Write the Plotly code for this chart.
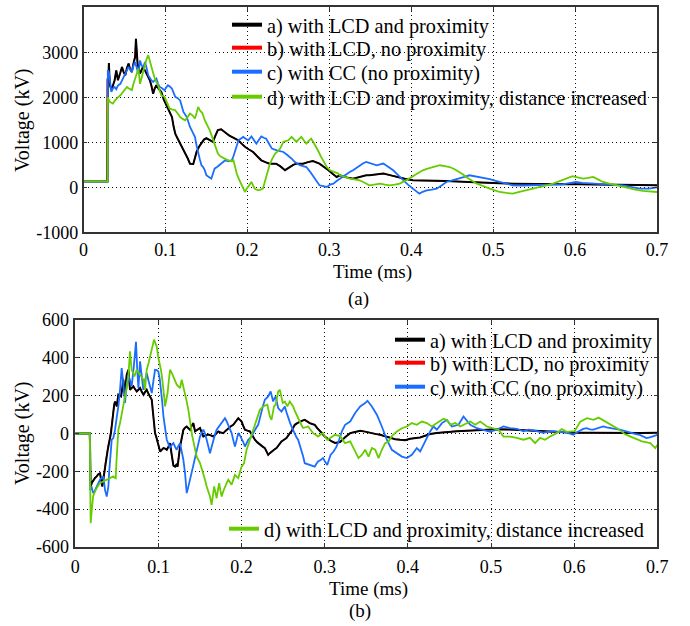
import plotly.graph_objects as go

# ---------------- data ----------------
NAMES = ["a) with LCD and proximity", "b) with LCD, no proximity",
         "c) with CC (no proximity)", "d) with LCD and proximity, distance increased"]
COLORS = ["#000000", "#ff0000", "#1a6dff", "#66cc00"]

X_TICKS = [0, 0.1, 0.2, 0.3, 0.4, 0.5, 0.6, 0.7]
X_TICK_TEXT = ["0", "0.1", "0.2", "0.3", "0.4", "0.5", "0.6", "0.7"]
TOP_Y_TICKS = [-1000, 0, 1000, 2000, 3000, 4000]
TOP_Y_TEXT = ["-1000", "0", "1000", "2000", "3000", "4000"]
BOT_Y_TICKS = [-600, -400, -200, 0, 200, 400, 600]
BOT_Y_TEXT = ["-600", "-400", "-200", "0", "200", "400", "600"]

# (a) panel, (time ms, voltage kV)
TOP_A = [(0, 130), (0.0293, 130), (0.0297, 2400), (0.0305, 2500), (0.031, 2760), (0.032, 2300), (0.034, 2155),
         (0.036, 2300), (0.038, 2380), (0.040, 2600), (0.042, 2380), (0.045, 2550), (0.047, 2675), (0.049, 2560),
         (0.051, 2490), (0.053, 2650), (0.055, 2750), (0.057, 2620), (0.059, 2560), (0.061, 2750), (0.063, 2900),
         (0.064, 3300), (0.065, 2950), (0.066, 2750), (0.069, 2525), (0.072, 2650), (0.075, 2600), (0.078, 2480),
         (0.081, 2380), (0.083, 2250), (0.085, 2080), (0.087, 2200), (0.089, 2270), (0.092, 2180), (0.095, 2120),
         (0.098, 1950), (0.101, 1820), (0.104, 1700), (0.108, 1560), (0.110, 1350), (0.112, 1190), (0.115, 1080),
         (0.118, 970), (0.121, 880), (0.124, 785), (0.127, 650), (0.130, 525), (0.134, 520), (0.136, 650),
         (0.138, 785), (0.141, 900), (0.144, 970), (0.147, 1060), (0.150, 1090), (0.154, 1050), (0.158, 1010),
         (0.161, 1150), (0.164, 1270), (0.168, 1290), (0.171, 1240), (0.175, 1190), (0.178, 1150), (0.181, 1120),
         (0.185, 1080), (0.189, 1045), (0.193, 970), (0.197, 900), (0.202, 840), (0.207, 785), (0.212, 690),
         (0.217, 600), (0.222, 560), (0.227, 525), (0.235, 525), (0.240, 470), (0.246, 380), (0.252, 450),
         (0.256, 500), (0.260, 525), (0.268, 525), (0.274, 560), (0.280, 585), (0.288, 525), (0.294, 450),
         (0.299, 380), (0.304, 300), (0.309, 230), (0.313, 267), (0.321, 220), (0.329, 193), (0.337, 230),
         (0.345, 267), (0.349, 267), (0.357, 290), (0.366, 304), (0.374, 270), (0.382, 230), (0.392, 190),
         (0.402, 156), (0.412, 156), (0.423, 156), (0.433, 148), (0.443, 140), (0.455, 130), (0.467, 118),
         (0.480, 110), (0.492, 96), (0.508, 88), (0.524, 81), (0.545, 72), (0.565, 67), (0.585, 67), (0.605, 67),
         (0.625, 63), (0.646, 59), (0.670, 52), (0.695, 44), (0.700, 44)]

TOP_B = [(0, 130), (0.0285, 130), (0.0289, 2400), (0.0305, 2500), (0.031, 2760), (0.032, 2300), (0.034, 2155),
         (0.036, 2300), (0.038, 2380), (0.040, 2600), (0.042, 2380), (0.045, 2550), (0.047, 2675), (0.049, 2560),
         (0.051, 2490), (0.053, 2650), (0.055, 2750), (0.057, 2620), (0.059, 2560), (0.061, 2750), (0.063, 2900),
         (0.064, 3300), (0.065, 2950), (0.066, 2750), (0.069, 2525), (0.072, 2650), (0.075, 2600), (0.078, 2480),
         (0.081, 2380), (0.083, 2250), (0.085, 2080), (0.087, 2200), (0.089, 2270), (0.092, 2180), (0.095, 2120),
         (0.098, 1950), (0.101, 1820), (0.104, 1700), (0.108, 1560), (0.110, 1350), (0.112, 1190), (0.115, 1080),
         (0.118, 970), (0.121, 880), (0.124, 785), (0.127, 650), (0.130, 525), (0.134, 520), (0.136, 650),
         (0.138, 785), (0.141, 900), (0.144, 970), (0.147, 1060), (0.150, 1090), (0.154, 1050), (0.158, 1010),
         (0.161, 1150), (0.164, 1270), (0.168, 1290), (0.171, 1240), (0.175, 1190), (0.178, 1150), (0.181, 1120),
         (0.185, 1080), (0.189, 1045), (0.193, 970), (0.197, 900), (0.202, 840), (0.207, 785), (0.212, 690),
         (0.217, 600), (0.222, 560), (0.227, 525), (0.235, 525), (0.240, 470), (0.246, 380), (0.252, 450),
         (0.256, 500), (0.260, 525), (0.268, 525), (0.274, 560), (0.280, 585), (0.288, 525), (0.294, 450),
         (0.299, 380), (0.304, 300), (0.309, 230), (0.313, 267), (0.321, 220), (0.329, 193), (0.337, 230),
         (0.345, 267), (0.349, 267), (0.357, 290), (0.366, 304), (0.374, 270), (0.382, 230), (0.392, 190),
         (0.402, 156), (0.412, 156), (0.423, 156), (0.433, 148), (0.443, 140), (0.455, 130), (0.467, 118),
         (0.480, 110), (0.492, 96), (0.508, 88), (0.524, 81), (0.545, 72), (0.565, 67), (0.585, 67), (0.605, 67),
         (0.625, 63), (0.646, 59), (0.670, 52), (0.695, 44), (0.700, 44)]

TOP_C = [(0, 130), (0.0294, 130), (0.0297, 2600), (0.031, 2560), (0.032, 2415), (0.034, 2120), (0.036, 2200),
         (0.038, 2230), (0.040, 2180), (0.042, 2260), (0.045, 2300), (0.047, 2380), (0.049, 2450), (0.051, 2525),
         (0.053, 2600), (0.055, 2675), (0.057, 2620), (0.059, 2560), (0.061, 2700), (0.063, 2785), (0.065, 2650),
         (0.067, 2525), (0.069, 2820), (0.071, 2700), (0.073, 2675), (0.075, 2785), (0.077, 2650), (0.079, 2490),
         (0.082, 2400), (0.085, 2340), (0.087, 2380), (0.089, 2415), (0.091, 2300), (0.093, 2230), (0.096, 2200),
         (0.099, 2155), (0.101, 2220), (0.103, 2270), (0.106, 2230), (0.108, 2190), (0.110, 2100), (0.112, 2010),
         (0.115, 1980), (0.118, 1930), (0.120, 1800), (0.122, 1675), (0.124, 1620), (0.126, 1560), (0.128, 1450),
         (0.130, 1340), (0.133, 1230), (0.136, 1120), (0.138, 930), (0.140, 750), (0.142, 620), (0.144, 490),
         (0.146, 450), (0.148, 380), (0.150, 267), (0.153, 230), (0.156, 193), (0.158, 300), (0.160, 415),
         (0.163, 450), (0.166, 490), (0.170, 540), (0.173, 600), (0.177, 580), (0.181, 600), (0.183, 690),
         (0.185, 785), (0.187, 920), (0.189, 1045), (0.192, 1080), (0.195, 1120), (0.198, 1080), (0.201, 1045),
         (0.205, 1130), (0.208, 1050), (0.211, 970), (0.214, 1050), (0.217, 1130), (0.220, 1100), (0.223, 1080),
         (0.227, 950), (0.230, 860), (0.236, 820), (0.240, 800), (0.244, 785), (0.248, 730), (0.252, 675),
         (0.255, 620), (0.258, 560), (0.261, 520), (0.264, 490), (0.268, 470), (0.272, 450), (0.276, 360),
         (0.280, 267), (0.284, 150), (0.288, 44), (0.292, 20), (0.297, 7), (0.301, 60), (0.305, 81), (0.309, 140),
         (0.313, 193), (0.317, 250), (0.321, 304), (0.325, 340), (0.329, 378), (0.333, 430), (0.337, 480),
         (0.341, 530), (0.345, 562), (0.350, 530), (0.354, 500), (0.358, 490), (0.362, 510), (0.366, 527),
         (0.370, 480), (0.374, 430), (0.378, 378), (0.384, 270), (0.390, 156), (0.396, 60), (0.402, -30),
         (0.406, -90), (0.410, -140), (0.414, -100), (0.419, -67), (0.425, -50), (0.431, -30), (0.437, 40),
         (0.443, 118), (0.451, 160), (0.459, 193), (0.465, 230), (0.471, 267), (0.477, 250), (0.484, 230),
         (0.490, 200), (0.496, 180), (0.502, 150), (0.508, 118), (0.516, 80), (0.524, 44), (0.535, 40),
         (0.545, 44), (0.555, 55), (0.565, 67), (0.575, 60), (0.585, 67), (0.593, 95), (0.601, 118), (0.609, 100),
         (0.618, 81), (0.628, 75), (0.638, 67), (0.648, 55), (0.658, 44), (0.668, 10), (0.679, -30), (0.690, -30),
         (0.700, -3)]

TOP_D = [(0, 130), (0.0294, 130), (0.0297, 2000), (0.031, 1960), (0.032, 1900), (0.034, 1880), (0.036, 1860),
         (0.038, 1920), (0.040, 1970), (0.042, 2000), (0.045, 2045), (0.047, 2090), (0.049, 2120), (0.051, 2180),
         (0.053, 2230), (0.055, 2200), (0.057, 2180), (0.059, 2160), (0.061, 2300), (0.063, 2415), (0.065, 2550),
         (0.067, 2640), (0.069, 2300), (0.071, 2450), (0.073, 2600), (0.075, 2700), (0.077, 2850), (0.079, 2935),
         (0.081, 2800), (0.083, 2675), (0.085, 2550), (0.087, 2415), (0.089, 2340), (0.091, 2270), (0.093, 2150),
         (0.095, 2045), (0.097, 2030), (0.099, 2010), (0.102, 1880), (0.105, 1750), (0.108, 1730), (0.112, 1710),
         (0.115, 1640), (0.118, 1560), (0.121, 1520), (0.124, 1490), (0.127, 1560), (0.130, 1640), (0.133, 1600),
         (0.136, 1530), (0.138, 1650), (0.140, 1785), (0.142, 1710), (0.145, 1650), (0.148, 1490), (0.151, 1380),
         (0.154, 1270), (0.157, 1120), (0.160, 970), (0.162, 860), (0.164, 750), (0.167, 690), (0.171, 640),
         (0.174, 620), (0.177, 600), (0.180, 580), (0.183, 600), (0.185, 450), (0.187, 305), (0.190, 170),
         (0.193, 44), (0.195, -30), (0.197, -104), (0.199, -40), (0.201, 7), (0.203, 60), (0.205, 118),
         (0.207, 40), (0.209, -30), (0.211, -50), (0.213, -67), (0.216, -50), (0.219, -30), (0.221, 100),
         (0.223, 230), (0.225, 360), (0.227, 490), (0.230, 620), (0.234, 750), (0.237, 800), (0.240, 860),
         (0.244, 1010), (0.247, 1030), (0.250, 1045), (0.254, 1120), (0.257, 1060), (0.260, 1010), (0.263, 1070),
         (0.266, 1120), (0.269, 1040), (0.272, 970), (0.275, 1030), (0.278, 1080), (0.281, 990), (0.284, 900),
         (0.287, 790), (0.290, 675), (0.294, 560), (0.297, 450), (0.301, 378), (0.306, 340), (0.311, 305),
         (0.313, 267), (0.319, 230), (0.325, 193), (0.331, 175), (0.337, 156), (0.343, 100), (0.349, 44),
         (0.355, 60), (0.362, 81), (0.368, 60), (0.374, 44), (0.380, 60), (0.386, 81), (0.390, 120), (0.394, 156),
         (0.399, 210), (0.404, 267), (0.409, 320), (0.414, 378), (0.420, 415), (0.427, 450), (0.435, 490),
         (0.441, 470), (0.447, 450), (0.453, 400), (0.459, 341), (0.463, 290), (0.467, 230), (0.474, 150),
         (0.480, 81), (0.486, 40), (0.492, 7), (0.496, -30), (0.502, -67), (0.508, -104), (0.516, -125),
         (0.524, -140), (0.532, -100), (0.540, -67), (0.548, -35), (0.557, -3), (0.565, 40), (0.573, 81),
         (0.581, 140), (0.589, 193), (0.597, 245), (0.603, 220), (0.610, 193), (0.616, 210), (0.622, 230),
         (0.628, 175), (0.634, 118), (0.642, 80), (0.650, 44), (0.658, 5), (0.667, -30), (0.675, -55),
         (0.683, -81), (0.691, -95), (0.700, -104)]

# (b) panel
BOT_A = [(0, 0), (0.0175, 0), (0.0180, -150), (0.0185, -280), (0.0200, -260), (0.0217, -245), (0.0237, -235),
         (0.0257, -227), (0.0277, -215), (0.0297, -210), (0.0312, -240), (0.0325, -280), (0.0338, -240),
         (0.035, -210), (0.0366, -157), (0.039, -86), (0.0405, -55), (0.0418, -33), (0.0428, 0), (0.0438, 37),
         (0.0447, 80), (0.0457, 125), (0.0467, 150), (0.0478, 169), (0.049, 155), (0.050, 143), (0.051, 180),
         (0.0518, 205), (0.0535, 200), (0.055, 196), (0.0565, 240), (0.0578, 284), (0.0588, 240), (0.0598, 196),
         (0.0608, 260), (0.0618, 310), (0.0638, 337), (0.0648, 280), (0.0658, 231), (0.0678, 240), (0.0698, 249),
         (0.0718, 235), (0.0739, 222), (0.0759, 231), (0.0779, 240), (0.080, 220), (0.082, 205), (0.084, 220),
         (0.0859, 231), (0.088, 210), (0.0899, 196), (0.092, 178), (0.093, 130), (0.0939, 90), (0.095, 40),
         (0.0959, 2), (0.0975, -20), (0.0992, -42), (0.1005, -70), (0.102, -95), (0.104, -85), (0.106, -77),
         (0.108, -80), (0.110, -86), (0.112, -70), (0.114, -51), (0.1155, -100), (0.1168, -157), (0.118, -170),
         (0.120, -175), (0.1215, -165), (0.123, -175), (0.1245, -120), (0.126, -69), (0.128, -25), (0.130, 20),
         (0.132, 30), (0.134, 37), (0.136, 28), (0.138, 20), (0.140, 40), (0.142, 55), (0.144, 11), (0.147, 20),
         (0.150, 29), (0.152, 5), (0.154, -16), (0.157, -10), (0.160, -5), (0.163, -10), (0.166, -16),
         (0.169, -3), (0.172, 11), (0.175, 5), (0.178, 2), (0.181, 15), (0.184, 29), (0.187, 38), (0.190, 46),
         (0.193, 63), (0.196, 81), (0.198, 72), (0.200, 63), (0.202, 40), (0.204, 20), (0.207, 15), (0.210, 11),
         (0.213, -10), (0.216, -33), (0.219, -47), (0.222, -60), (0.225, -68), (0.228, -77), (0.230, -95),
         (0.232, -113), (0.234, -104), (0.236, -95), (0.239, -86), (0.242, -77), (0.245, -60), (0.248, -42),
         (0.251, -33), (0.254, -24), (0.257, -5), (0.260, 11), (0.262, 30), (0.264, 46), (0.267, 55), (0.270, 63),
         (0.273, 68), (0.276, 72), (0.279, 63), (0.282, 55), (0.285, 50), (0.288, 46), (0.291, 28), (0.294, 11),
         (0.297, 0), (0.300, -16), (0.304, -30), (0.3085, -42), (0.3125, -50), (0.3185, -45), (0.3245, -20),
         (0.3306, 2), (0.3366, 8), (0.3426, 14), (0.3486, 10), (0.3546, 2), (0.3606, -2), (0.3666, -7),
         (0.3727, -15), (0.3787, -24), (0.3847, -30), (0.3907, -33), (0.3967, -35), (0.4027, -28), (0.4087, -25),
         (0.4147, -21), (0.4207, -12), (0.4268, -3), (0.4348, 3), (0.4428, 7), (0.451, 10), (0.459, 12),
         (0.471, 14), (0.483, 16), (0.495, 20), (0.507, 23), (0.523, 21), (0.535, 18), (0.547, 16), (0.559, 14),
         (0.571, 12), (0.585, 8), (0.600, 4), (0.620, 4), (0.640, 3), (0.659, 2), (0.680, 3), (0.700, 4)]

BOT_B = [(0, 0), (0.0170, 0), (0.0176, -150), (0.0183, -280), (0.0200, -260), (0.0217, -245), (0.0237, -235),
         (0.0257, -227), (0.0277, -215), (0.0297, -210), (0.0312, -240), (0.0325, -280), (0.0338, -240),
         (0.035, -210), (0.0362, -157), (0.0385, -86), (0.0400, -55), (0.0412, -33), (0.0425, 0), (0.0435, 37),
         (0.0447, 80), (0.0457, 125), (0.0467, 150), (0.0478, 169), (0.049, 155), (0.050, 143), (0.051, 180),
         (0.0518, 205), (0.0535, 200), (0.055, 196), (0.0565, 240), (0.0578, 290), (0.0588, 240), (0.0598, 196),
         (0.0608, 260), (0.0618, 310), (0.0638, 337), (0.0648, 280), (0.0658, 231), (0.0678, 240), (0.0698, 249),
         (0.0718, 235), (0.0739, 222), (0.0759, 231), (0.0779, 240), (0.080, 220), (0.082, 205), (0.084, 220),
         (0.0859, 231), (0.088, 210), (0.0899, 196), (0.092, 178), (0.093, 130), (0.0939, 90), (0.095, 40),
         (0.0959, 2), (0.0975, -20), (0.0992, -42), (0.1005, -70), (0.102, -95), (0.104, -85), (0.106, -77),
         (0.108, -80), (0.110, -86), (0.112, -70), (0.114, -51), (0.1155, -100), (0.1168, -157), (0.118, -170),
         (0.120, -175), (0.1215, -165), (0.123, -175), (0.1245, -120), (0.126, -69), (0.128, -25), (0.130, 20),
         (0.132, 30), (0.134, 37), (0.136, 28), (0.138, 20), (0.140, 40), (0.142, 55), (0.144, 11), (0.147, 20),
         (0.150, 29), (0.152, 5), (0.154, -16), (0.157, -10), (0.160, -5), (0.163, -10), (0.166, -16),
         (0.169, -3), (0.172, 11), (0.175, 5), (0.178, 2), (0.181, 15), (0.184, 29), (0.187, 38), (0.190, 46),
         (0.193, 63), (0.196, 81), (0.198, 72), (0.200, 63), (0.202, 40), (0.204, 20), (0.207, 15), (0.210, 11),
         (0.213, -10), (0.216, -33), (0.219, -47), (0.222, -60), (0.225, -68), (0.228, -77), (0.230, -95),
         (0.232, -113), (0.234, -104), (0.236, -95), (0.239, -86), (0.242, -77), (0.245, -60), (0.248, -42),
         (0.251, -33), (0.254, -24), (0.257, -5), (0.260, 11), (0.262, 30), (0.264, 46), (0.267, 55), (0.270, 63),
         (0.273, 68), (0.276, 72), (0.279, 63), (0.282, 55), (0.285, 50), (0.288, 46), (0.291, 28), (0.294, 11),
         (0.297, 0), (0.300, -16), (0.304, -30), (0.3085, -42), (0.3125, -50), (0.3185, -45), (0.3245, -20),
         (0.3306, 2), (0.3366, 8), (0.3426, 14), (0.3486, 10), (0.3546, 2), (0.3606, -2), (0.3666, -7),
         (0.3727, -15), (0.3787, -24), (0.3847, -30), (0.3907, -33), (0.3967, -35), (0.4027, -28), (0.4087, -25),
         (0.4147, -21), (0.4207, -12), (0.4268, -3), (0.4348, 3), (0.4428, 7), (0.451, 10), (0.459, 12),
         (0.471, 14), (0.483, 16), (0.495, 20), (0.507, 23), (0.523, 21), (0.535, 18), (0.547, 16), (0.559, 14),
         (0.571, 12), (0.585, 8), (0.600, 4), (0.620, 4), (0.640, 3), (0.659, 2), (0.680, 3), (0.700, 4)]

BOT_C = [(0, 0), (0.0175, 0), (0.0180, -298), (0.0195, -280), (0.0205, -300), (0.0217, -315), (0.0237, -300),
         (0.0257, -280), (0.0277, -260), (0.0297, -245), (0.0317, -235), (0.0337, -227), (0.0347, -260),
         (0.0357, -298), (0.0378, -333), (0.0398, -280), (0.0408, -200), (0.0418, -122), (0.0438, -33),
         (0.0457, -24), (0.0478, 20), (0.050, 90), (0.0518, 143), (0.0538, 231), (0.0558, 346), (0.0578, 258),
         (0.0598, 161), (0.0618, 258), (0.0638, 310), (0.0658, 280), (0.0678, 249), (0.0705, 360), (0.073, 485),
         (0.0745, 337), (0.0759, 240), (0.0779, 381), (0.080, 300), (0.0818, 231), (0.0839, 280), (0.0859, 320),
         (0.088, 280), (0.0899, 240), (0.092, 214), (0.094, 280), (0.0959, 337), (0.098, 335), (0.0999, 328),
         (0.1015, 290), (0.103, 240), (0.1045, 170), (0.106, 90), (0.108, 30), (0.110, -33), (0.112, -55),
         (0.114, -77), (0.116, -60), (0.118, -51), (0.120, -70), (0.122, -86), (0.124, -65), (0.126, -51),
         (0.128, -95), (0.130, -139), (0.132, -210), (0.133, -270), (0.134, -315), (0.1355, -290), (0.137, -263),
         (0.139, -215), (0.1405, -190), (0.142, -157), (0.146, -86), (0.150, -16), (0.154, 20), (0.156, 0),
         (0.158, -33), (0.160, -70), (0.162, -104), (0.164, -70), (0.166, -33), (0.168, -5), (0.170, 20),
         (0.173, 40), (0.176, 55), (0.178, 70), (0.180, 81), (0.182, 65), (0.184, 46), (0.186, 25), (0.188, 2),
         (0.190, -35), (0.192, -69), (0.194, -35), (0.196, 2), (0.198, -10), (0.200, -24), (0.202, -45),
         (0.204, -69), (0.206, -50), (0.208, -33), (0.210, -25), (0.212, -16), (0.214, 2), (0.216, 20),
         (0.218, 33), (0.220, 46), (0.222, 85), (0.224, 125), (0.226, 150), (0.228, 178), (0.230, 188),
         (0.232, 196), (0.2335, 210), (0.235, 222), (0.2365, 195), (0.238, 169), (0.2395, 185), (0.241, 196),
         (0.2425, 165), (0.244, 134), (0.246, 125), (0.248, 116), (0.250, 130), (0.252, 143), (0.254, 112),
         (0.256, 81), (0.258, 60), (0.260, 37), (0.262, 16), (0.264, -5), (0.266, -20), (0.268, -33),
         (0.270, -60), (0.272, -86), (0.274, -120), (0.276, -157), (0.279, -162), (0.282, -166), (0.285, -170),
         (0.288, -175), (0.290, -160), (0.292, -148), (0.295, -140), (0.298, -130), (0.3005, -150), (0.303, -166),
         (0.305, -140), (0.307, -113), (0.3105, -95), (0.3135, -75), (0.3165, -45), (0.3206, 11), (0.3245, 46),
         (0.3306, 63), (0.3366, 108), (0.3426, 143), (0.3486, 161), (0.3514, 173), (0.3567, 143), (0.3627, 99),
         (0.3687, 37), (0.3747, -33), (0.3807, -86), (0.3868, -104), (0.3928, -122), (0.3988, -130),
         (0.4048, -113), (0.4108, -77), (0.4148, -95), (0.4208, -42), (0.4268, 11), (0.4308, 37), (0.4349, 20),
         (0.4409, 55), (0.4469, 72), (0.4529, 37), (0.4609, 46), (0.4669, 90), (0.475, 46), (0.483, 28),
         (0.491, 20), (0.499, 9), (0.507, 21), (0.515, 37), (0.523, 28), (0.531, 25), (0.539, 12), (0.545, 20),
         (0.551, 16), (0.557, 8), (0.563, 4), (0.569, 10), (0.575, 12), (0.581, 8), (0.587, 9), (0.593, 2),
         (0.599, -7), (0.603, 5), (0.607, 16), (0.611, 24), (0.615, 28), (0.619, 22), (0.623, 21), (0.629, 30),
         (0.635, 37), (0.639, 32), (0.643, 28), (0.649, 25), (0.655, 21), (0.661, 12), (0.667, 4), (0.673, -2),
         (0.679, -7), (0.683, -15), (0.687, -24), (0.691, -20), (0.695, -14), (0.700, -7)]

BOT_D = [(0, 0), (0.0175, 0), (0.0180, -300), (0.0185, -474), (0.0195, -420), (0.0205, -351), (0.0215, -330),
         (0.0229, -315), (0.0243, -300), (0.0257, -289), (0.0277, -275), (0.0297, -263), (0.0317, -258),
         (0.0337, -254), (0.0357, -250), (0.0378, -245), (0.0398, -240), (0.0418, -236), (0.0438, -230),
         (0.0457, -227), (0.047, -232), (0.0486, -236), (0.0495, -150), (0.0502, -69), (0.0518, 20), (0.0538, 55),
         (0.0558, 108), (0.0578, 161), (0.0598, 196), (0.0618, 240), (0.0638, 302), (0.0648, 370), (0.0658, 434),
         (0.0668, 380), (0.0678, 337), (0.0695, 320), (0.0712, 302), (0.0725, 320), (0.0739, 337), (0.0759, 323),
         (0.0779, 310), (0.080, 297), (0.082, 284), (0.0832, 250), (0.0839, 231), (0.0849, 290), (0.0859, 337),
         (0.088, 370), (0.0899, 407), (0.091, 435), (0.092, 460), (0.0935, 480), (0.0947, 496), (0.0963, 478),
         (0.0979, 460), (0.0999, 399), (0.1015, 370), (0.103, 337), (0.1045, 290), (0.106, 240), (0.107, 190),
         (0.108, 143), (0.1095, 180), (0.111, 214), (0.1125, 280), (0.114, 337), (0.116, 320), (0.118, 302),
         (0.120, 280), (0.122, 258), (0.124, 249), (0.126, 240), (0.128, 284), (0.130, 250), (0.132, 214),
         (0.134, 170), (0.136, 125), (0.1375, 70), (0.139, 20), (0.1405, -10), (0.142, -40), (0.144, -80),
         (0.146, -122), (0.148, -140), (0.150, -157), (0.152, -185), (0.154, -210), (0.156, -245), (0.158, -280),
         (0.160, -305), (0.162, -333), (0.164, -377), (0.1655, -330), (0.167, -280), (0.1685, -310),
         (0.170, -342), (0.1715, -300), (0.173, -263), (0.1745, -300), (0.176, -333), (0.178, -305),
         (0.180, -280), (0.182, -262), (0.184, -245), (0.186, -258), (0.188, -271), (0.190, -245), (0.192, -219),
         (0.194, -228), (0.196, -236), (0.198, -205), (0.200, -175), (0.203, -157), (0.2045, -120), (0.206, -86),
         (0.208, -60), (0.210, -33), (0.212, -5), (0.214, 20), (0.216, 50), (0.218, 81), (0.220, 103),
         (0.222, 125), (0.224, 134), (0.226, 143), (0.2285, 148), (0.231, 152), (0.2325, 120), (0.234, 90),
         (0.236, 72), (0.2375, 108), (0.239, 143), (0.241, 152), (0.2425, 190), (0.244, 222), (0.246, 231),
         (0.248, 195), (0.2495, 161), (0.252, 169), (0.255, 143), (0.258, 169), (0.262, 143), (0.264, 120),
         (0.266, 99), (0.268, 80), (0.270, 63), (0.272, 45), (0.274, 29), (0.277, 33), (0.280, 37), (0.283, 20),
         (0.286, 2), (0.289, -7), (0.292, -16), (0.295, -5), (0.298, 2), (0.300, -15), (0.303, -33),
         (0.3065, -24), (0.3125, -7), (0.3185, -14), (0.3245, -51), (0.3306, -42), (0.3366, -95), (0.3406, -130),
         (0.3446, -113), (0.3486, -86), (0.3527, -122), (0.3567, -77), (0.3607, -86), (0.3647, -130),
         (0.3687, -86), (0.3727, -51), (0.3767, -42), (0.3807, -14), (0.3868, 11), (0.3928, 28), (0.3988, 37),
         (0.4048, 55), (0.4108, 46), (0.4168, 63), (0.4228, 55), (0.4288, 37), (0.4349, 55), (0.4429, 78),
         (0.4469, 72), (0.4509, 46), (0.457, 55), (0.463, 37), (0.469, 50), (0.475, 63), (0.481, 46),
         (0.487, 63), (0.495, 37), (0.503, 28), (0.509, 20), (0.515, -16), (0.523, -16), (0.531, -23),
         (0.539, -33), (0.547, -23), (0.553, -51), (0.559, -23), (0.565, -33), (0.571, -16), (0.579, 2),
         (0.585, 23), (0.591, 9), (0.6005, 12), (0.6074, 63), (0.6154, 81), (0.6234, 72), (0.6294, 84),
         (0.6375, 63), (0.6455, 46), (0.6535, 23), (0.6615, -5), (0.6715, -23), (0.6816, -42), (0.6916, -51),
         (0.6976, -77), (0.700, -60)]

# ---------------- layout helpers ----------------
W, H = 690, 626
FONT = "Liberation Serif, Times New Roman, serif"


def px(x):
    return x / W


def py(y):
    return 1 - y / H


fig = go.Figure()

panels = [
    ("x", "y", [TOP_A, TOP_B, TOP_C, TOP_D]),
    ("x2", "y2", [BOT_A, BOT_B, BOT_C, BOT_D]),
]
draw_order = [1, 0, 2, 3]  # red under black, then blue, green on top
widths = [2.0, 1.3, 1.8, 1.8]
for xa, ya, series in panels:
    for i in draw_order:
        pts = series[i]
        fig.add_trace(go.Scatter(
            x=[p[0] for p in pts], y=[p[1] for p in pts], mode="lines",
            line=dict(color=COLORS[i], width=widths[i]), showlegend=False,
            xaxis=xa, yaxis=ya, hoverinfo="skip"))

# legend entries (thick samples), each in its own legend box
legend_ids_top = ["legend", "legend2", "legend3", "legend4"]
legend_ids_bot = ["legend5", "legend6", "legend7", "legend8"]
for i in range(4):
    fig.add_trace(go.Scatter(x=[None], y=[None], mode="lines", name=NAMES[i],
                             line=dict(color=COLORS[i], width=4), legend=legend_ids_top[i],
                             xaxis="x", yaxis="y"))
    fig.add_trace(go.Scatter(x=[None], y=[None], mode="lines", name=NAMES[i],
                             line=dict(color=COLORS[i], width=4), legend=legend_ids_bot[i],
                             xaxis="x2", yaxis="y2"))

legend_font = dict(family=FONT, size=20.3, color="black")


def leg(x_text, y_center):
    return dict(x=px(x_text - 33), y=py(y_center), xanchor="left", yanchor="middle",
                bgcolor="rgba(0,0,0,0)", borderwidth=0, font=legend_font,
                itemwidth=30, itemclick=False, itemdoubleclick=False)


legend_layout = {
    "legend": leg(260, 25), "legend2": leg(260, 48), "legend3": leg(260, 72), "legend4": leg(260, 97),
    "legend5": leg(423, 340), "legend6": leg(423, 363), "legend7": leg(423, 387), "legend8": leg(257, 529),
}

axis_common = dict(
    showgrid=True, gridcolor="#111111", gridwidth=1, griddash="1px,3px",
    showline=True, linecolor="#333333", linewidth=1.5, mirror="ticks",
    ticks="inside", ticklen=4, tickcolor="#333333", tickwidth=1,
    zeroline=False, tickfont=dict(family=FONT, size=18, color="black"),
    fixedrange=True,
)

fig.update_layout(
    template="none",
    width=W, height=H, autosize=False,
    margin=dict(l=0, r=0, t=0, b=0),
    paper_bgcolor="white", plot_bgcolor="white",
    font=dict(family=FONT, color="black"),
    xaxis=dict(domain=[px(83.5), px(657)], range=[0, 0.7], anchor="y",
               tickvals=X_TICKS, ticktext=X_TICK_TEXT, ticklabelstandoff=0, **axis_common),
    yaxis=dict(domain=[py(232.3), py(7.3)], range=[-1000, 4000], anchor="x",
               tickvals=TOP_Y_TICKS, ticktext=TOP_Y_TEXT, ticklabelstandoff=0, **axis_common),
    xaxis2=dict(domain=[px(75.3), px(657.3)], range=[0, 0.7], anchor="y2",
                tickvals=X_TICKS, ticktext=X_TICK_TEXT, ticklabelstandoff=3, **axis_common),
    yaxis2=dict(domain=[py(547), py(320)], range=[-600, 600], anchor="x2",
                tickvals=BOT_Y_TICKS, ticktext=BOT_Y_TEXT, ticklabelstandoff=1, **axis_common),
    **legend_layout,
)

ann_font = dict(family=FONT, size=19, color="black")
annotations = [
    dict(text="Voltage (kV)", x=px(22), y=py(120), textangle=-90, font=dict(family=FONT, size=20, color="black")),
    dict(text="Voltage (kV)", x=px(22), y=py(433), textangle=-90, font=dict(family=FONT, size=20, color="black")),
    dict(text="Time (ms)", x=px(372), y=py(272), font=ann_font),
    dict(text="Time (ms)", x=px(368), y=py(589), font=ann_font),
    dict(text="(a)", x=px(359), y=py(299), font=ann_font),
    dict(text="(b)", x=px(360), y=py(611), font=ann_font),
]
for a in annotations:
    fig.add_annotation(xref="paper", yref="paper", showarrow=False, xanchor="center", yanchor="middle", **a)

# white backgrounds behind the legend text (hide the grid, not the curves)
boxes = [(236, 655.5, 9, 110), (396, 655.5, 322, 400), (240, 655.5, 513, 545)]
for x0, x1, y0, y1 in boxes:
    shape = dict(type="rect", xref="paper", yref="paper", x0=px(x0), x1=px(x1), y0=py(y1), y1=py(y0),
                 fillcolor="white", line=dict(width=0))
    try:
        fig.add_shape(layer="between", **shape)
    except ValueError:
        fig.add_shape(layer="below", **shape)

fig.write_html("out.html")
